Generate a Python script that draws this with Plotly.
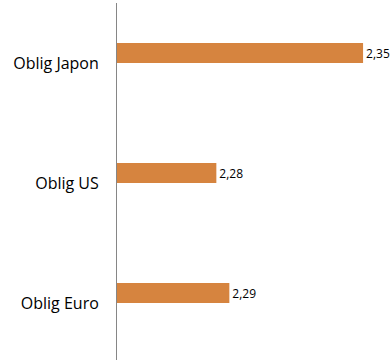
import plotly.graph_objects as go

categories = ["Oblig Japon", "Oblig US", "Oblig Euro"]
values = [2.3500, 2.2800, 2.2862]

x_min = 2.2326
x_max = 2.3638

fig = go.Figure(go.Bar(
    y=categories,
    x=[v - x_min for v in values],
    base=x_min,
    orientation="h",
    marker=dict(color="#D6843F", line=dict(width=0)),
    width=0.1667,
    offset=-0.1667,
    text=[f"{v:.2f}".replace(".", ",") for v in values],
    textposition="outside",
    textfont=dict(family="Open Sans, sans-serif", size=12, color="#000000"),
    cliponaxis=False,
    hoverinfo="skip",
))

fig.update_layout(
    width=392,
    height=360,
    margin=dict(l=116.5, r=0, t=3, b=0),
    paper_bgcolor="white",
    plot_bgcolor="white",
    showlegend=False,
    xaxis=dict(range=[x_min, x_max], visible=False, showgrid=False, zeroline=False),
    yaxis=dict(
        range=[2.475, -0.5],
        showline=True,
        linecolor="#868686",
        linewidth=1,
        showgrid=False,
        zeroline=False,
        ticks="outside",
        ticklen=14,
        tickcolor="rgba(0,0,0,0)",
        tickfont=dict(family="Open Sans, sans-serif", size=16, color="#000000"),
    ),
)

fig.write_html("out.html")
